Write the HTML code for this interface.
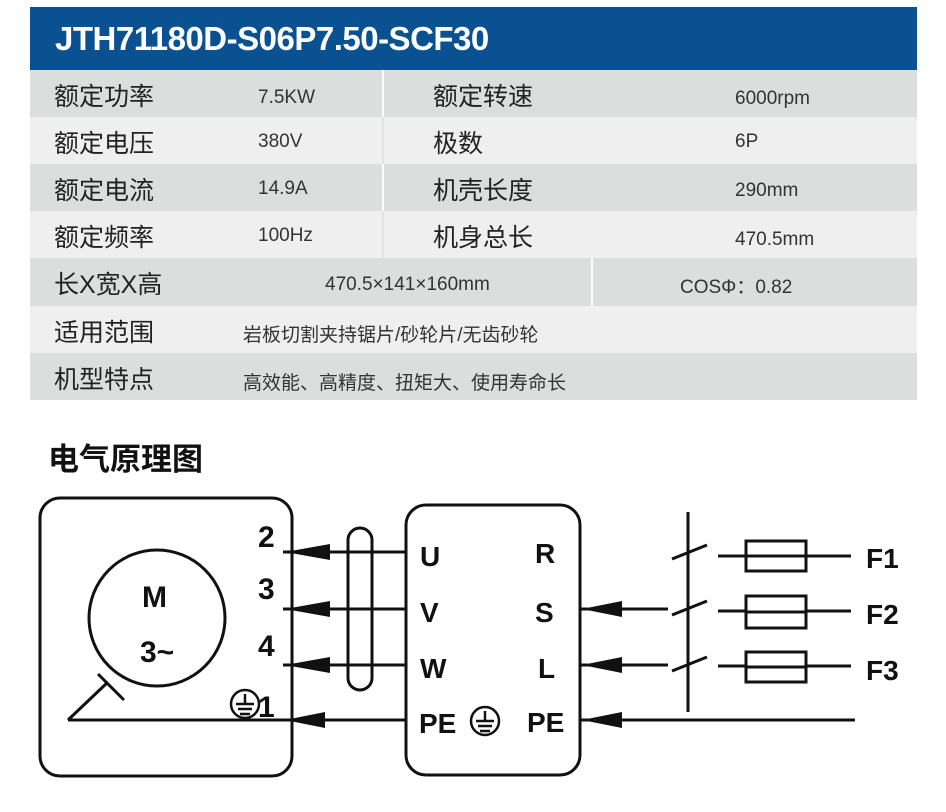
<!DOCTYPE html>
<html><head><meta charset="utf-8"><style>
body{margin:0;width:946px;height:812px;background:#fff;font-family:"Liberation Sans","Noto Sans CJK SC",sans-serif;position:relative;overflow:hidden}
.hd{position:absolute;left:30px;top:7px;width:887px;height:63px;background:#0a5192;color:#fff;font-weight:bold;font-size:33px;line-height:63px;padding-left:25px;box-sizing:border-box;letter-spacing:-0.5px}
.r{position:absolute;left:30px;width:887px;height:47px}
.a{background:#dcdddd}.b{background:#efefef}
.t{position:absolute;white-space:nowrap;color:#222}
.l{font-size:25px;top:7px}
.v{font-size:19px;top:14px;color:#333}
.dv{position:absolute;top:0;width:2px;height:47px;background:#fff}
</style></head><body>
<div class="hd">JTH71180D-S06P7.50-SCF30</div>
<div class="r a" style="top:70px"><span class="t l" style="left:24px">额定功率</span><span class="t v" style="left:228px;top:17px">7.5KW</span><div class="dv" style="left:352px"></div><span class="t l" style="left:403px">额定转速</span><span class="t v" style="left:705px;top:18px">6000rpm</span></div>
<div class="r b" style="top:117px"><span class="t l" style="left:24px">额定电压</span><span class="t v" style="left:228px">380V</span><div class="dv" style="left:352px;background:#e2e2e2"></div><span class="t l" style="left:403px">极数</span><span class="t v" style="left:705px">6P</span></div>
<div class="r a" style="top:164px"><span class="t l" style="left:24px">额定电流</span><span class="t v" style="left:228px">14.9A</span><div class="dv" style="left:352px"></div><span class="t l" style="left:403px">机壳长度</span><span class="t v" style="left:705px;top:16px">290mm</span></div>
<div class="r b" style="top:211px"><span class="t l" style="left:24px">额定频率</span><span class="t v" style="left:228px">100Hz</span><div class="dv" style="left:352px;background:#e2e2e2"></div><span class="t l" style="left:403px">机身总长</span><span class="t v" style="left:705px;top:18px">470.5mm</span></div>
<div class="r a" style="top:258px;height:48px"><span class="t l" style="left:24px">长X宽X高</span><span class="t v" style="left:295px;top:16px">470.5×141×160mm</span><div class="dv" style="left:561px;height:48px"></div><span class="t v" style="left:650px">COSΦ：0.82</span></div>
<div class="r b" style="top:306px"><span class="t l" style="left:24px">适用范围</span><span class="t v" style="left:213px;top:14px">岩板切割夹持锯片/砂轮片/无齿砂轮</span></div>
<div class="r a" style="top:353px"><span class="t l" style="left:24px">机型特点</span><span class="t v" style="left:213px;top:15px">高效能、高精度、扭矩大、使用寿命长</span></div>
<div class="t" style="left:48px;top:434px;font-size:31px;font-weight:bold;color:#111">电气原理图</div>
<svg style="position:absolute;left:0;top:0" width="946" height="812" font-family="Liberation Sans,sans-serif" font-weight="bold" fill="#111">
<g stroke="#111" stroke-width="3" fill="none">
<rect x="40" y="498" width="252" height="278" rx="20"/>
<rect x="406" y="505" width="174" height="270" rx="20"/>
<circle cx="157" cy="618" r="68"/>
<line x1="68" y1="720" x2="108" y2="682"/>
<line x1="98" y1="674" x2="124" y2="700"/>
<line x1="68" y1="720" x2="406" y2="720"/>
<line x1="283" y1="552" x2="406" y2="552"/>
<line x1="283" y1="609" x2="406" y2="609"/>
<line x1="283" y1="665" x2="406" y2="665"/>
<rect x="348" y="528" width="24" height="162" rx="12"/>
<line x1="580" y1="609" x2="668" y2="609"/>
<line x1="580" y1="665" x2="668" y2="665"/>
<line x1="580" y1="720" x2="855" y2="720"/>
<line x1="688" y1="512" x2="688" y2="712"/>
<line x1="672" y1="559" x2="707" y2="545"/>
<line x1="672" y1="615" x2="707" y2="601"/>
<line x1="672" y1="671" x2="707" y2="657"/>
<line x1="718" y1="556" x2="851" y2="556"/>
<line x1="718" y1="611" x2="851" y2="611"/>
<line x1="718" y1="666" x2="851" y2="666"/>
<rect x="746" y="541" width="60" height="30" fill="#fff"/>
<rect x="746" y="596" width="60" height="32" fill="#fff"/>
<rect x="746" y="652" width="60" height="30" fill="#fff"/>
<line x1="746" y1="556" x2="806" y2="556"/><line x1="746" y1="612" x2="806" y2="612"/><line x1="746" y1="667" x2="806" y2="667"/>
<circle cx="245" cy="704" r="14" stroke-width="2.5"/>
<circle cx="485" cy="721" r="14" stroke-width="2.5"/>
</g>
<g stroke="#111" stroke-width="2.5">
<line x1="245" y1="694" x2="245" y2="704"/><line x1="236" y1="704" x2="254" y2="704"/><line x1="238" y1="709" x2="252" y2="709"/><line x1="240" y1="714" x2="250" y2="714"/>
<line x1="485" y1="711" x2="485" y2="721"/><line x1="476" y1="721" x2="494" y2="721"/><line x1="478" y1="726" x2="492" y2="726"/><line x1="480" y1="731" x2="490" y2="731"/>
</g>
<g fill="#111">
<path d="M285,552 L330,544 L330,560Z"/><path d="M285,609 L330,601 L330,617Z"/><path d="M285,665 L330,657 L330,673Z"/><path d="M285,720 L325,712 L325,728Z"/>
<path d="M582,609 L622,601 L622,617Z"/><path d="M582,665 L622,657 L622,673Z"/><path d="M582,720 L622,712 L622,728Z"/>
</g>
<g font-size="30">
<text x="142" y="607">M</text><text x="140" y="662">3~</text>
<text x="258" y="547">2</text><text x="258" y="599">3</text><text x="258" y="656">4</text><text x="258" y="717">1</text>
<text x="420" y="566" font-size="28">U</text><text x="420" y="622" font-size="28">V</text><text x="420" y="678" font-size="28">W</text><text x="419" y="733" font-size="28">PE</text>
<text x="535" y="563" font-size="28">R</text><text x="535" y="622" font-size="28">S</text><text x="538" y="678" font-size="28">L</text><text x="527" y="732" font-size="28">PE</text>
<text x="866" y="568" font-size="28">F1</text><text x="866" y="624" font-size="28">F2</text><text x="866" y="680" font-size="28">F3</text>
</g>
</svg>
</body></html>
